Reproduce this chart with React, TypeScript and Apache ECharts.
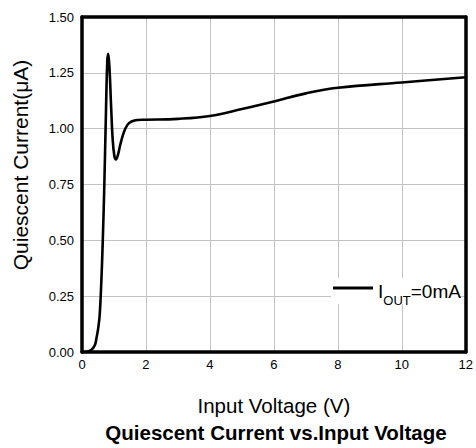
import React, { useEffect, useRef } from "react";
import * as echarts from "echarts";

const voltage = [0, 0.1, 0.2, 0.3, 0.4, 0.45, 0.5, 0.55, 0.6, 0.65, 0.7, 0.75, 0.79, 0.82, 0.86, 0.91, 0.96, 1.01, 1.06, 1.12, 1.2, 1.3, 1.42, 1.55, 1.73, 2.0, 3.0, 4.0, 5.0, 6.0, 7.0, 8.0, 10.0, 12.0];
const current = [0, 0, 0.003, 0.01, 0.03, 0.06, 0.1, 0.16, 0.3, 0.5, 0.76, 1.08, 1.3, 1.335, 1.27, 1.1, 0.95, 0.88, 0.862, 0.88, 0.93, 0.98, 1.017, 1.032, 1.039, 1.04, 1.044, 1.057, 1.088, 1.122, 1.158, 1.183, 1.207, 1.23];
const xTicks = [0, 2, 4, 6, 8, 10, 12];
const yTicks = [0, 0.25, 0.5, 0.75, 1.0, 1.25, 1.5];
const seriesName = "IOUT=0mA";

export default function App() {
  const ref = useRef<HTMLDivElement>(null);
  useEffect(() => {
    if (!ref.current) return;
    const chart = echarts.init(ref.current, null, { renderer: "svg" });
    const font = "'Liberation Sans', Arial, sans-serif";
    const frameAxis = {
      type: "value",
      axisLine: { show: true, onZero: false, lineStyle: { color: "#000", width: 3.5 } },
      axisTick: { show: false },
      axisLabel: { show: false },
      splitLine: { show: false },
      z: 6,
    };
    chart.setOption({
      animation: false,
      backgroundColor: "#fff",
      textStyle: { fontFamily: font },
      title: {
        text: "Quiescent Current vs.Input Voltage",
        left: 276,
        top: 422,
        padding: 0,
        textAlign: "center",
        textStyle: { fontFamily: font, fontSize: 20.5, fontWeight: "bold", color: "#000" },
      },
      grid: {
        left: 82,
        right: 7,
        top: 17,
        bottom: 96,
        show: false,
      },
      legend: {
        left: 333,
        top: 269.5,
        padding: 0,
        z: 10,
        icon: "rect",
        itemWidth: 40,
        itemHeight: 3,
        data: [seriesName],
        formatter: () => "{a|I}{b|OUT}{a|=0mA}",
        textStyle: {
          fontFamily: font,
          color: "#000",
          rich: {
            a: { fontFamily: font, fontSize: 19, lineHeight: 20, padding: [6, 0, 0, 0], color: "#000" },
            b: { fontFamily: font, fontSize: 13, lineHeight: 13, padding: [24, 0, 0, 0], color: "#000" },
          },
        },
      },
      graphic: [
        { type: "rect", z: 3, shape: { x: 331, y: 278, width: 127, height: 26 }, style: { fill: "#fff" } },
      ],
      xAxis: [
        {
          type: "value",
          min: xTicks[0],
          max: xTicks[xTicks.length - 1],
          interval: 2,
          name: "Input Voltage (V)",
          nameLocation: "middle",
          nameGap: 42.5,
          nameTextStyle: { fontFamily: font, fontSize: 20.5, color: "#000" },
          axisLine: { show: true, onZero: false, lineStyle: { color: "#000", width: 3.5 } },
          axisTick: { show: false },
          axisLabel: { fontFamily: font, fontSize: 13, color: "#000", margin: 6 },
          splitLine: { show: true, lineStyle: { color: "#c4c4c4", width: 1 } },
        },
        { ...frameAxis, position: "top", min: xTicks[0], max: xTicks[xTicks.length - 1], interval: 2 },
      ],
      yAxis: [
        {
          type: "value",
          min: yTicks[0],
          max: yTicks[yTicks.length - 1],
          interval: 0.25,
          name: "Quiescent Current(μA)",
          nameLocation: "middle",
          nameRotate: 90,
          nameGap: 51.5,
          nameTextStyle: { fontFamily: font, fontSize: 21, color: "#000", padding: [0, 0, 0, 39] },
          axisLine: { show: true, onZero: false, lineStyle: { color: "#000", width: 3.5 } },
          axisTick: { show: false },
          axisLabel: {
            fontFamily: font,
            fontSize: 13,
            color: "#000",
            margin: 8,
            formatter: (v: number) => v.toFixed(2),
          },
          splitLine: { show: true, lineStyle: { color: "#c4c4c4", width: 1 } },
        },
        { ...frameAxis, position: "right", min: yTicks[0], max: yTicks[yTicks.length - 1], interval: 0.25 },
      ],
      series: [
        {
          name: seriesName,
          type: "line",
          data: voltage.map((v, i) => [v, current[i]]),
          showSymbol: false,
          symbol: "none",
          smooth: 0.4,
          clip: false,
          lineStyle: { color: "#000", width: 2.6 },
          itemStyle: { color: "#000" },
          z: 4,
        },
      ],
    });
    return () => chart.dispose();
  }, []);
  return <div ref={ref} style={{ width: 476, height: 448, position: "absolute", left: 0, top: 0 }} />;
}
